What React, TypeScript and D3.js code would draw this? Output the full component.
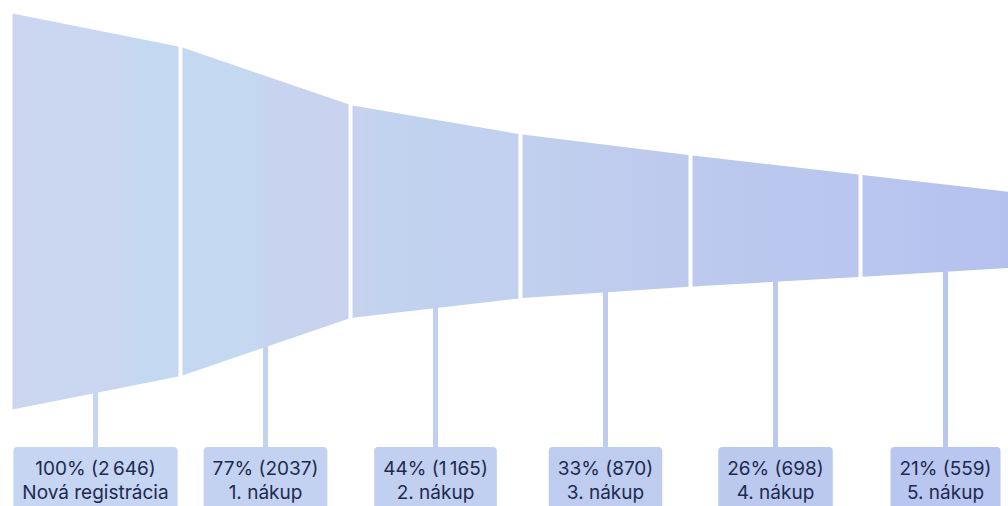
import React, { useMemo } from 'react';
import * as d3 from 'd3';

// Funnel stages and their customer counts
const stages = ['Nová registrácia', '1. nákup', '2. nákup', '3. nákup', '4. nákup', '5. nákup'];
const customers = [2646, 2037, 1165, 870, 698, 559];
const shares = [100, 77, 44, 33, 26, 21];
const countLabels = ['2\u2009646', '2037', '1\u2009165', '870', '698', '559'];

const W = 1008;
const H = 506;
const FONT_SIZE = 19;
const FONT_FAMILY = 'Inter, "Open Sans", sans-serif';
const GAP = 4;
const BOX_TOP = 447;
const BOX_PAD = 9;
const TEXT_COLOR = '#1d2a4f';

function measure(text: string): number {
  const c = document.createElement('canvas').getContext('2d');
  if (!c) return text.length * 9;
  c.font = `${FONT_SIZE}px Inter`;
  return c.measureText(text).width;
}

export default function App() {
  const layout = useMemo(() => {
    const step = 170;
    const start = 12.5;
    const x = d3
      .scaleBand<string>()
      .domain(stages)
      .range([start, start + step * (stages.length - GAP / step)])
      .paddingInner(GAP / step)
      .paddingOuter(0);
    const bw = x.bandwidth();

    // funnel thickness from the customer count
    const thickness = d3
      .scaleSqrt()
      .domain([d3.min(customers)!, d3.max(customers)!])
      .range([102, 396]);

    const hb = customers.map((v) => thickness(v));
    hb.push(2 * hb[hb.length - 1] - hb[hb.length - 2]);
    const xb = stages.map((s, i) => (i === 0 ? x(s)! : x(s)! - GAP / 2));
    xb.push(x(stages[stages.length - 1])! + bw);
    const heightAt = d3.scaleLinear().domain(xb).range(hb);
    const centerAt = (px: number) => 211.5 + Math.max(0, px - 350) * 0.028;

    const line = d3.line<[number, number]>().curve(d3.curveLinearClosed);
    const boxColor = d3
      .scaleLinear<string>()
      .domain([0, W])
      .range(['#c7d7f1', '#b8c5ef'])
      .interpolate(d3.interpolateRgb);

    const segs = stages.map((s, i) => {
      const x0 = x(s)!;
      const x1 = x0 + bw;
      const pts: [number, number][] = [
        [x0, centerAt(x0) - heightAt(x0) / 2],
        [x1, centerAt(x1) - heightAt(x1) / 2],
        [x1, centerAt(x1) + heightAt(x1) / 2],
        [x0, centerAt(x0) + heightAt(x0) / 2],
      ];
      const cx = x0 + bw / 2;
      const top = `${shares[i]}% (${countLabels[i]})`;
      const bottom = s;
      const tw = Math.max(measure(top), measure(bottom));
      return {
        key: s,
        path: line(pts)!,
        cx,
        stemTop: centerAt(cx) + heightAt(cx) / 2 - 1,
        top,
        bottom,
        boxW: tw + BOX_PAD * 2,
        fill: boxColor(cx),
      };
    });
    return { segs };
  }, []);

  return (
    <svg
      width={W}
      height={H}
      viewBox={`0 0 ${W} ${H}`}
      style={{ position: 'fixed', left: 0, top: 0, background: '#ffffff' }}
    >
      <defs>
        <linearGradient id="funnelFill" gradientUnits="userSpaceOnUse" x1={0} y1={0} x2={W} y2={0}>
          <stop offset="0" stopColor="#cbd5ef" />
          <stop offset="0.12" stopColor="#cad6f0" />
          <stop offset="0.135" stopColor="#c5d8f2" />
          <stop offset="0.25" stopColor="#c4d8f2" />
          <stop offset="0.27" stopColor="#c8d3ef" />
          <stop offset="0.35" stopColor="#c8d2ee" />
          <stop offset="0.385" stopColor="#c1d3ef" />
          <stop offset="0.52" stopColor="#c1d0ef" />
          <stop offset="0.6" stopColor="#bfccee" />
          <stop offset="0.75" stopColor="#bbc8ee" />
          <stop offset="0.9" stopColor="#b8c5ef" />
          <stop offset="1" stopColor="#b4c0ee" />
        </linearGradient>
      </defs>
      <g>
        {layout.segs.map((d) => (
          <path key={d.key} d={d.path} fill="url(#funnelFill)" />
        ))}
      </g>
      <g>
        {layout.segs.map((d) => (
          <g key={d.key}>
            <rect x={d.cx - 2.5} y={d.stemTop} width={5} height={BOX_TOP - d.stemTop + 1} fill={d.fill} />
            <rect x={d.cx - d.boxW / 2} y={BOX_TOP} width={d.boxW} height={80} rx={4} fill={d.fill} />
            <text
              x={d.cx}
              y={475}
              textAnchor="middle"
              fontFamily={FONT_FAMILY}
              fontSize={FONT_SIZE}
              fill={TEXT_COLOR}
            >
              {d.top}
            </text>
            <text
              x={d.cx}
              y={499}
              textAnchor="middle"
              fontFamily={FONT_FAMILY}
              fontSize={FONT_SIZE}
              fill={TEXT_COLOR}
            >
              {d.bottom}
            </text>
          </g>
        ))}
      </g>
    </svg>
  );
}
